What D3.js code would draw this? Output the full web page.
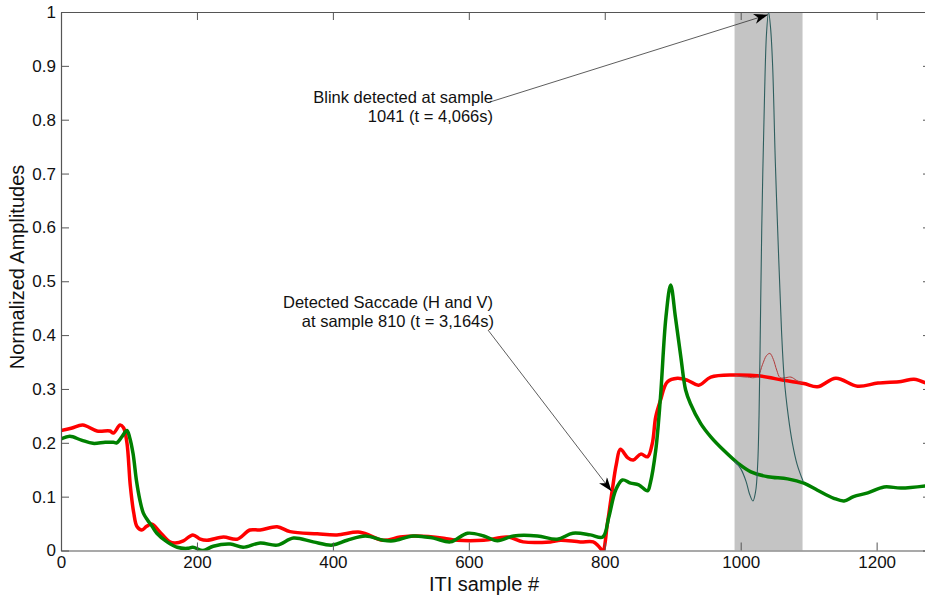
<!DOCTYPE html>
<html>
<head>
<meta charset="utf-8">
<script src="https://cdn.jsdelivr.net/npm/d3@7"></script>
<style>
  html, body { margin: 0; padding: 0; background: #fff; }
  svg { display: block; font-family: "Liberation Sans", Arial, Helvetica, sans-serif; }
</style>
</head>
<body>
<svg id="chart" width="925" height="595"></svg>
<script>
// horizontal channel (filtered), [sample, amplitude]
const hSeries = [[0,0.223],[15,0.227],[32,0.233],[53,0.222],[72,0.222],[77,0.218],[87,0.233],[92,0.228],[97,0.2],[102,0.12],[107,0.07],[112,0.044],[119,0.038],[126,0.045],[134,0.049],[145,0.035],[160,0.016],[168,0.014],[180,0.018],[194,0.029],[205,0.021],[215,0.019],[239,0.025],[259,0.021],[278,0.038],[293,0.038],[318,0.044],[337,0.035],[377,0.031],[406,0.029],[440,0.034],[474,0.019],[499,0.025],[524,0.027],[563,0.023],[583,0.019],[622,0.019],[657,0.025],[680,0.016],[720,0.016],[735,0.019],[764,0.016],[783,0.016],[791,0.008],[797,0.0],[804,0.051],[811,0.112],[817,0.16],[823,0.188],[834,0.172],[842,0.168],[853,0.179],[863,0.174],[870,0.199],[875,0.248],[882,0.279],[892,0.313],[907,0.320],[922,0.316],[938,0.307],[956,0.322],[990,0.326],[1029,0.324],[1063,0.316],[1093,0.310],[1113,0.304],[1140,0.320],[1172,0.305],[1202,0.311],[1236,0.314],[1255,0.318],[1272,0.311]];

// vertical channel (filtered)
const vSeries = [[0,0.207],[13,0.212],[30,0.205],[47,0.199],[65,0.201],[77,0.201],[82,0.200],[90,0.212],[97,0.223],[101,0.21],[106,0.18],[111,0.13],[116,0.094],[121,0.07],[127,0.057],[134,0.045],[141,0.032],[156,0.016],[171,0.006],[186,0.004],[194,0.006],[209,0.0],[224,0.008],[249,0.012],[268,0.006],[293,0.014],[318,0.010],[342,0.023],[371,0.016],[399,0.010],[421,0.019],[448,0.027],[474,0.019],[489,0.018],[518,0.027],[548,0.023],[573,0.016],[598,0.032],[622,0.027],[642,0.018],[666,0.027],[701,0.027],[730,0.021],[753,0.032],[779,0.029],[797,0.025],[806,0.062],[816,0.112],[826,0.131],[838,0.125],[850,0.122],[863,0.111],[867,0.125],[875,0.186],[882,0.285],[890,0.433],[897,0.493],[904,0.433],[912,0.359],[919,0.298],[926,0.273],[941,0.236],[956,0.211],[975,0.186],[996,0.162],[1015,0.146],[1040,0.137],[1069,0.133],[1093,0.125],[1113,0.112],[1137,0.097],[1152,0.092],[1166,0.1],[1187,0.107],[1211,0.118],[1236,0.116],[1272,0.12]];

// raw signals inside the blink window
const hRaw = [[991,0.326],[1000,0.323],[1010,0.322],[1020,0.321],[1026,0.325],[1032,0.345],[1038,0.362],[1043,0.366],[1048,0.355],[1053,0.335],[1058,0.321],[1066,0.321],[1074,0.322],[1082,0.316],[1091,0.31]];
const vRaw = [[991,0.166],[1000,0.152],[1008,0.128],[1013,0.105],[1018,0.092],[1022,0.11],[1025,0.16],[1027,0.25],[1029,0.42],[1031,0.6],[1035,0.84],[1038,0.96],[1041,1.0],[1044,0.97],[1047,0.9],[1051,0.72],[1056,0.54],[1060,0.41],[1064,0.32],[1070,0.25],[1076,0.2],[1083,0.16],[1092,0.128]];

const blinkWindow = [991, 1091];
const xTicks = [0, 200, 400, 600, 800, 1000, 1200];
const xTickLabels = ["0", "200", "400", "600", "800", "1000", "1200"];
const yTicks = [0, 0.1, 0.2, 0.3, 0.4, 0.5, 0.6, 0.7, 0.8, 0.9, 1];
const yTickLabels = ["0", "0.1", "0.2", "0.3", "0.4", "0.5", "0.6", "0.7", "0.8", "0.9", "1"];

const svg = d3.select("#chart");
const margin = { top: 12, left: 61, right: 931, bottom: 550.5 };

const x = d3.scaleLinear().domain([0, 1280]).range([margin.left, margin.right]);
const y = d3.scaleLinear().domain([0, 1]).range([margin.bottom, margin.top]);

svg.append("defs").append("clipPath").attr("id", "plot")
  .append("rect")
  .attr("x", margin.left).attr("y", margin.top)
  .attr("width", margin.right - margin.left).attr("height", margin.bottom - margin.top);

svg.select("defs").append("marker")
  .attr("id", "head")
  .attr("viewBox", "0 0 14 10")
  .attr("refX", 14).attr("refY", 5)
  .attr("markerWidth", 14).attr("markerHeight", 10)
  .attr("markerUnits", "userSpaceOnUse")
  .attr("orient", "auto")
  .append("path")
  .attr("d", "M0,0 L14,5 L0,10 L4,5 Z")
  .attr("fill", "#000");

const plot = svg.append("g").attr("clip-path", "url(#plot)");

plot.append("rect")
  .attr("x", x(blinkWindow[0]))
  .attr("width", x(blinkWindow[1]) - x(blinkWindow[0]))
  .attr("y", margin.top)
  .attr("height", margin.bottom - margin.top)
  .attr("fill", "#c4c4c4");

const line = d3.line()
  .x(d => x(d[0]))
  .y(d => y(d[1]))
  .curve(d3.curveCatmullRom.alpha(0.5));

plot.append("path").attr("d", line(hSeries))
  .attr("fill", "none").attr("stroke", "#ff0000").attr("stroke-width", 3.5)
  .attr("stroke-linejoin", "round");
plot.append("path").attr("d", line(vSeries))
  .attr("fill", "none").attr("stroke", "#008000").attr("stroke-width", 3.5)
  .attr("stroke-linejoin", "round");
plot.append("path").attr("d", line(hRaw))
  .attr("fill", "none").attr("stroke", "#b23b3b").attr("stroke-width", 1);
plot.append("path").attr("d", line(vRaw))
  .attr("fill", "none").attr("stroke", "#2e5e5e").attr("stroke-width", 1.1);

// axes, MATLAB style box with inward ticks
const axisColor = "#555";
const styleAxis = g => {
  g.select(".domain").attr("stroke", axisColor).attr("stroke-width", 1.2);
  g.selectAll(".tick line").attr("stroke", axisColor);
  g.selectAll(".tick text").attr("fill", "#111").style("font-size", "17px");
};

svg.append("g")
  .attr("transform", `translate(0,${margin.bottom})`)
  .call(d3.axisBottom(x).tickValues(xTicks).tickSizeInner(-8).tickSizeOuter(0).tickPadding(5)
    .tickFormat((d, i) => xTickLabels[i]))
  .call(styleAxis);

svg.append("g")
  .attr("transform", `translate(0,${margin.top})`)
  .call(d3.axisTop(x).tickValues(xTicks).tickSizeInner(-8).tickSizeOuter(0).tickFormat(""))
  .call(styleAxis);

svg.append("g")
  .attr("transform", `translate(${margin.left},0)`)
  .call(d3.axisLeft(y).tickValues(yTicks).tickSizeInner(-8).tickSizeOuter(0).tickPadding(5)
    .tickFormat((d, i) => yTickLabels[i]))
  .call(styleAxis);

svg.append("g")
  .attr("transform", `translate(${margin.right},0)`)
  .call(d3.axisRight(y).tickValues(yTicks).tickSizeInner(-8).tickSizeOuter(0).tickFormat(""))
  .call(styleAxis);

svg.append("text")
  .attr("x", 484).attr("y", 591)
  .attr("text-anchor", "middle")
  .style("font-size", "20px").attr("fill", "#111")
  .text("ITI sample #");

svg.append("text")
  .attr("transform", "translate(24,267) rotate(-90)")
  .attr("text-anchor", "middle")
  .style("font-size", "20px").attr("fill", "#111")
  .text("Normalized Amplitudes");

// annotations
const notes = svg.append("g").style("font-size", "16.5px").attr("fill", "#111").attr("text-anchor", "end");
notes.append("text").attr("x", 493).attr("y", 103).text("Blink detected at sample");
notes.append("text").attr("x", 493).attr("y", 122).text("1041 (t = 4,066s)");
notes.append("text").attr("x", 493).attr("y", 308).text("Detected Saccade (H and V)");
notes.append("text").attr("x", 494).attr("y", 327).text("at sample 810 (t = 3,164s)");

svg.append("line")
  .attr("x1", 490).attr("y1", 102)
  .attr("x2", x(1040)).attr("y2", y(0.995))
  .attr("stroke", "#333").attr("stroke-width", 0.8)
  .attr("marker-end", "url(#head)");

svg.append("line")
  .attr("x1", 488).attr("y1", 330)
  .attr("x2", x(810)).attr("y2", y(0.11))
  .attr("stroke", "#333").attr("stroke-width", 0.8)
  .attr("marker-end", "url(#head)");
</script>
</body>
</html>
